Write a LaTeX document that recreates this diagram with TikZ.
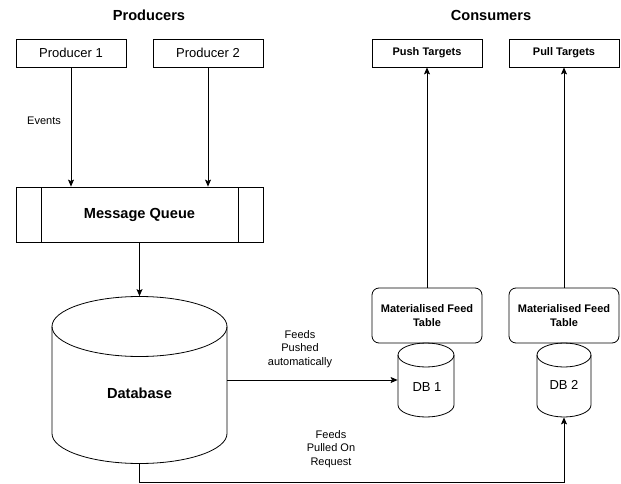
\documentclass[tikz,border=0pt]{standalone}
\usepackage{fontspec}
\setmainfont{Liberation Sans}
\usetikzlibrary{arrows.meta}
\begin{document}
\begin{tikzpicture}[x=1pt,y=-1pt,
  line width=0.8pt,
  box/.style={draw, minimum width=110pt, minimum height=28pt, inner sep=0pt, font=\fontsize{13}{15}\selectfont},
  tbox/.style={draw, minimum width=110pt, minimum height=28pt, inner sep=0pt, font=\bfseries\fontsize{11}{13}\selectfont},
  mbox/.style={draw, rounded corners=7pt, minimum width=110pt, minimum height=55pt, inner sep=0pt, align=center, font=\bfseries\fontsize{11}{13.3}\selectfont},
  ttl/.style={font=\bfseries\fontsize{14.6}{17}\selectfont},
  lbl/.style={align=center, inner sep=0pt, font=\fontsize{11}{13.3}\selectfont},
  holder/.style={inner sep=0pt, minimum width=#1},
  arr/.style={-{Stealth[length=7pt,width=6pt,inset=1.5pt]}},
]
\useasboundingbox (0,0) rectangle (621,484);

% titles
\node[ttl] (tprod) at (149,15) {Producers};
\node[ttl] (tcons) at (491,15) {Consumers};

% producers
\node[box] (p1) at (71,53) {Producer 1};
\node[box] (p2) at (208,53) {Producer 2};

% message queue
\node[draw, minimum width=247pt, minimum height=55pt, inner sep=0pt,
      font=\bfseries\fontsize{14.6}{17}\selectfont] (mq) at (139.5,214.5) {Message Queue};
\draw (41,187) -- (41,242);
\draw (238,187) -- (238,242);

% database cylinder
\node[inner sep=0pt, minimum width=175pt, minimum height=167pt] (db) at (139.5,380) {};
\draw (52,326.5) -- (52,433.5) arc[start angle=180,end angle=360,x radius=87.5pt,y radius=30pt] -- (227,326.5);
\draw (139.5,326.5) ellipse[x radius=87.5pt, y radius=30pt];
\node[font=\bfseries\fontsize{14.6}{17}\selectfont] (dbl) at (139.5,393) {Database};

% targets
\node[tbox] (push) at (427,53) {Push Targets};
\node[tbox] (pull) at (564,53) {Pull Targets};

% materialised feed tables
\node[mbox] (m1) at (427,315.5) {Materialised Feed\\Table};
\node[mbox] (m2) at (564,315.5) {Materialised Feed\\Table};

% DB 1
\node[inner sep=0pt, minimum width=56pt, minimum height=74pt] (db1) at (426,380) {};
\draw (398,355) -- (398,405) arc[start angle=180,end angle=360,x radius=28pt,y radius=12pt] -- (454,355);
\draw (426,355) ellipse[x radius=28pt, y radius=12pt];
\node[font=\fontsize{13}{15}\selectfont] (db1l) at (427,387) {DB 1};

% DB 2
\node[inner sep=0pt, minimum width=54pt, minimum height=74pt] (db2) at (564,380) {};
\draw (537,355) -- (537,405) arc[start angle=180,end angle=360,x radius=27pt,y radius=12pt] -- (591,355);
\draw (564,355) ellipse[x radius=27pt, y radius=12pt];
\node[font=\fontsize{13}{15}\selectfont] (db2l) at (564,385) {DB 2};

% labels
\node[lbl] (ev) at (44,121) {Events};
\node[lbl] (push lbl) at (300,349) {Feeds\\Pushed\\automatically};
\node[lbl] (pull lbl) at (331,449) {Feeds\\Pulled On\\Request};

% connectors
\draw[arr] (p1.south) -- (p1.south |- mq.north);
\draw[arr] (p2.south) -- (p2.south |- mq.north);
\draw[arr] (mq.south) -- (db.north);
\draw[arr] (db.east) -- (db1.west);
\draw[arr] (db.south) -- ++(0,18) -| (db2.south);
\draw[arr] (m1.north) -- (push.south);
\draw[arr] (m2.north) -- (pull.south);
\end{tikzpicture}
\end{document}
